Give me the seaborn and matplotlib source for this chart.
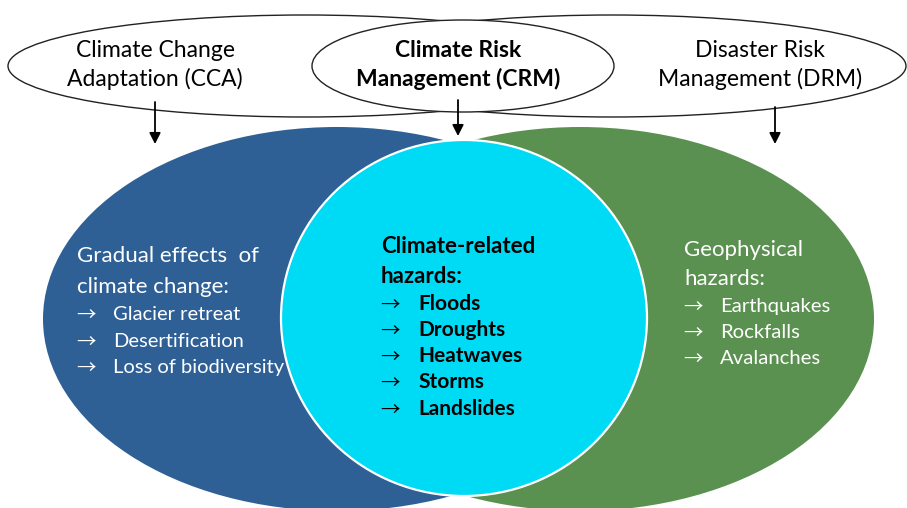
import matplotlib
matplotlib.use("Agg")
import matplotlib.pyplot as plt
from matplotlib.patches import Ellipse
import seaborn as sns

# ---- content ----
top_labels = ["Climate Change\nAdaptation (CCA)", "Climate Risk\nManagement (CRM)", "Disaster Risk\nManagement (DRM)"]
left_title = ["Gradual effects  of", "climate change:"]
left_items = ["Glacier retreat", "Desertification", "Loss of biodiversity"]
mid_title = ["Climate-related", "hazards:"]
mid_items = ["Floods", "Droughts", "Heatwaves", "Storms", "Landslides"]
right_title = ["Geophysical", "hazards:"]
right_items = ["Earthquakes", "Rockfalls", "Avalanches"]

BLUE = "#2E6096"
GREEN = "#5B9150"
CYAN = "#00DBF5"

sns.set_theme(style="white")
plt.rcParams["font.family"] = ["Lato", "DejaVu Sans"]

W, H = 907, 508
fig = plt.figure(figsize=(W / 100, H / 100), dpi=100)
ax = fig.add_axes([0, 0, 1, 1])
ax.set_xlim(0, W)
ax.set_ylim(H, 0)
ax.axis("off")

# top ellipses
ax.add_patch(Ellipse((305, 66), 594, 102, facecolor="white", edgecolor="#222222", lw=1.0, zorder=1))
ax.add_patch(Ellipse((612, 66), 588, 102, facecolor="none", edgecolor="#222222", lw=1.0, zorder=1))
ax.add_patch(Ellipse((463, 66), 302, 92, facecolor="white", edgecolor="#222222", lw=1.0, zorder=2))

# big shapes
ax.add_patch(Ellipse((337, 319), 588, 384, facecolor=BLUE, edgecolor="none", zorder=3))
ax.add_patch(Ellipse((580, 319), 588, 384, facecolor=GREEN, edgecolor="none", zorder=4))
ax.add_patch(Ellipse((464, 318), 366, 356, facecolor=CYAN, edgecolor="white", lw=1.6, zorder=5))

# arrows
for x, y0, y1 in [(155, 102, 144), (458, 100, 136), (775, 107, 144)]:
    ax.annotate("", xy=(x, y1), xytext=(x, y0),
                arrowprops=dict(arrowstyle="-|>,head_length=0.55,head_width=0.28", color="black", lw=1.3,
                                shrinkA=0, shrinkB=0), zorder=6)

FS = 16.5
tops = [(155, False), (458, True), (760, False)]
for lab, (x, bold) in zip(top_labels, tops):
    l1, l2 = lab.split("\n")
    fw = "bold" if bold else "normal"
    ax.text(x, 57, l1, ha="center", va="baseline", fontsize=FS, fontweight=fw, color="black", zorder=7)
    ax.text(x, 86, l2, ha="center", va="baseline", fontsize=FS, fontweight=fw, color="black", zorder=7)


def block(x_arrow, x_text, title, title_y, items, items_y, color, bold, fs_title, fs_item):
    fw = "bold" if bold else "normal"
    for t, y in zip(title, title_y):
        ax.text(x_arrow, y, t, ha="left", va="baseline", fontsize=fs_title, color=color, fontweight=fw, zorder=7)
    for t, y in zip(items, items_y):
        ax.text(x_arrow - 1, y + 1, "\u2192", ha="left", va="baseline", fontsize=14, color=color,
                family=["Noto Sans CJK SC", "DejaVu Sans"], fontweight="normal", zorder=7)
        ax.text(x_text, y, t, ha="left", va="baseline", fontsize=fs_item, color=color, fontweight=fw, zorder=7)


block(77, 113, left_title, [262, 293], left_items, [320, 347, 373], "white", False, 16, 14.5)
block(381, 418, mid_title, [253, 283], mid_items, [310, 336, 362, 388, 415], "black", True, 16, 15)
block(684, 720, right_title, [256, 285], right_items, [312, 338, 364], "white", False, 16, 14.6)

fig.savefig("out.png", dpi=100)
